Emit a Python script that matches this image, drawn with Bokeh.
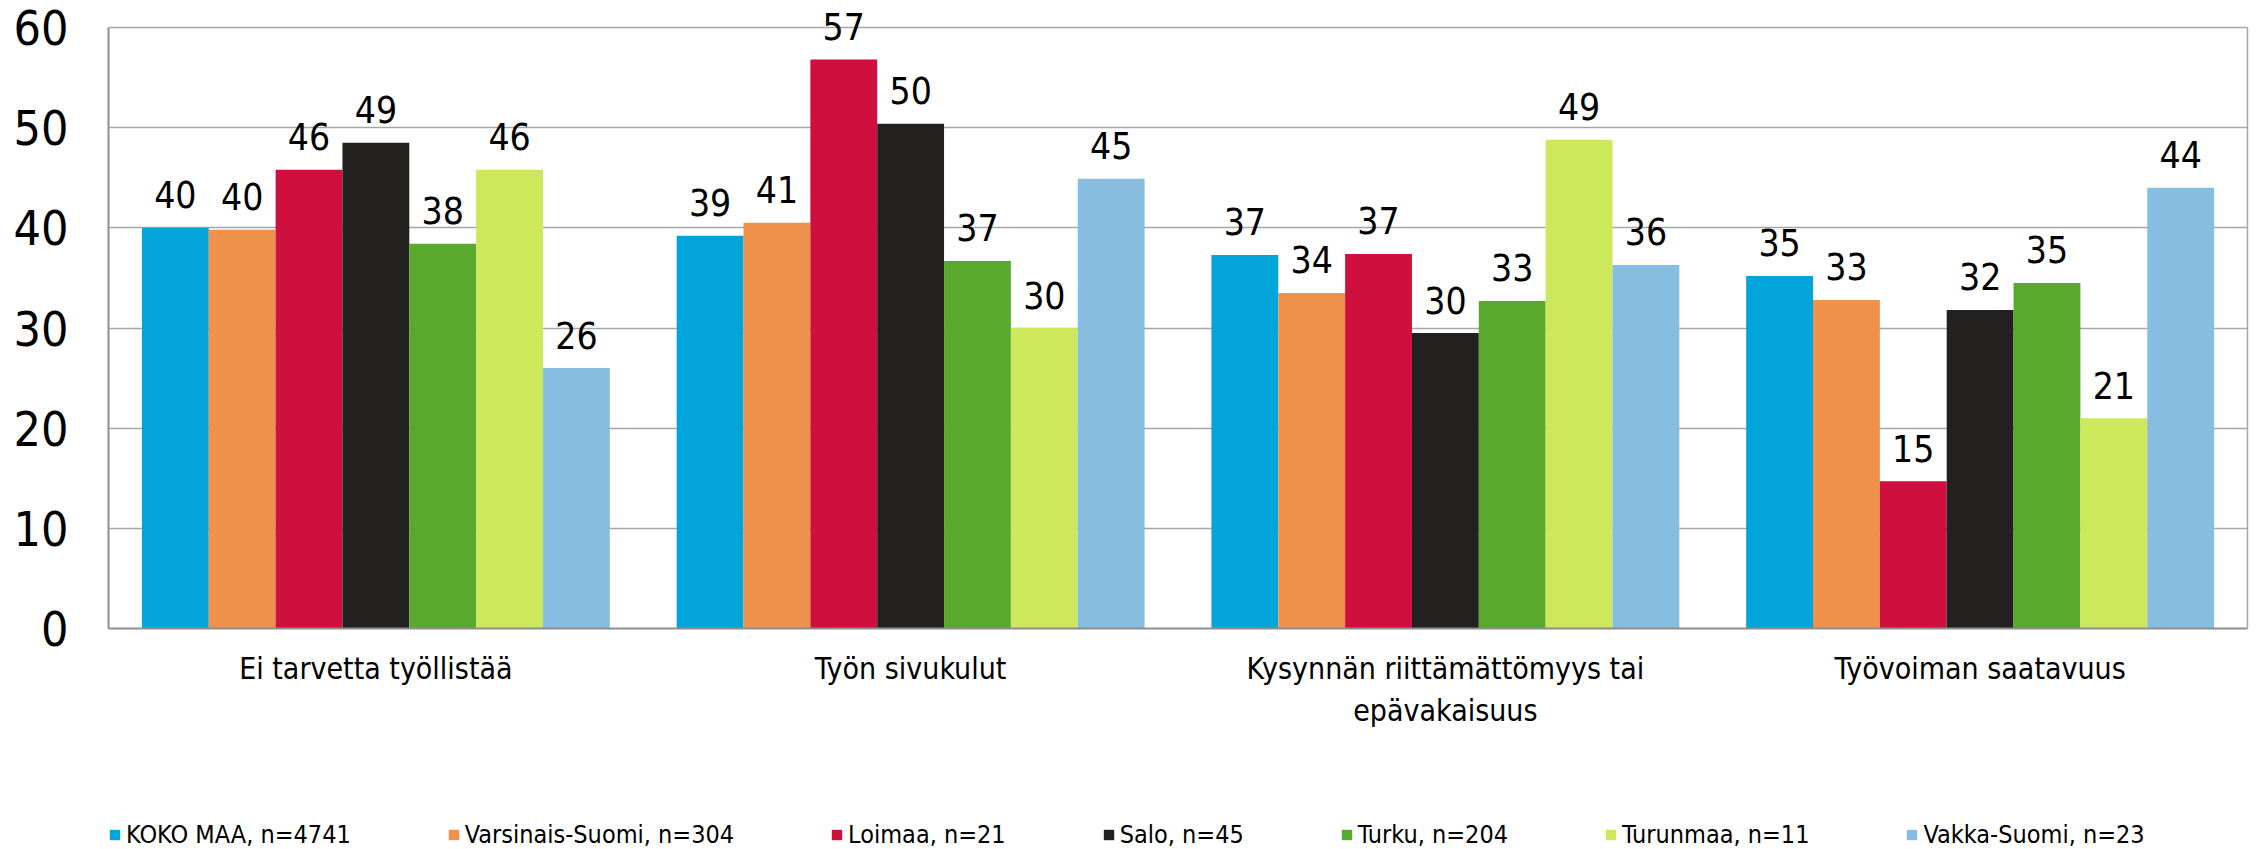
from bokeh.plotting import figure
from bokeh.layouts import column
from bokeh.models import (FactorRange, FixedTicker, Legend, LegendItem, ColumnDataSource,
                          LinearAxis, Range1d)
from bokeh.transform import dodge
from bokeh.core.properties import value
from bokeh.embed import file_html
from bokeh.resources import INLINE

categories = ["Ei tarvetta työllistää", "Työn sivukulut",
              "Kysynnän riittämättömyys tai\nepävakaisuus", "Työvoiman saatavuus"]

series_names = ["KOKO MAA, n=4741", "Varsinais-Suomi, n=304", "Loimaa, n=21",
                "Salo, n=45", "Turku, n=204", "Turunmaa, n=11", "Vakka-Suomi, n=23"]

koko_maa = [40.0, 39.2, 37.3, 35.2]
varsinais_suomi = [39.8, 40.5, 33.5, 32.8]
loimaa = [45.8, 56.8, 37.4, 14.7]
salo = [48.5, 50.4, 29.5, 31.8]
turku = [38.4, 36.7, 32.7, 34.5]
turunmaa = [45.8, 30.0, 48.8, 21.0]
vakka_suomi = [26.0, 44.9, 36.3, 44.0]

series_values = [koko_maa, varsinais_suomi, loimaa, salo, turku, turunmaa, vakka_suomi]
colors = ["#03A4DA", "#F0914B", "#CF0F3D", "#232120", "#58A92D", "#CDE85B", "#88BDE2"]
y_ticks = [0, 10, 20, 30, 40, 50, 60]
y_max = 60

FONT = "DejaVu Sans Condensed"
W = 2257
H_MAIN = 790
H_LEG = 59
FRAME_TOP = 5        # frame starts above the 60 line so that value labels are not clipped
LINE60_Y = 27
BASE_Y = 628
y_end = y_max * (BASE_Y - FRAME_TOP) / (BASE_Y - LINE60_Y)

p = figure(x_range=FactorRange(*categories), y_range=Range1d(0, y_end),
           width=W, height=H_MAIN, output_backend="svg", toolbar_location=None,
           min_border_left=108, min_border_right=10, min_border_top=FRAME_TOP,
           min_border_bottom=H_MAIN - BASE_Y)

p.background_fill_color = "white"
p.border_fill_color = "white"
p.outline_line_color = None

p.xgrid.grid_line_color = None
p.ygrid.ticker = FixedTicker(ticks=y_ticks)
p.ygrid.grid_line_color = "#A6A6A6"
p.ygrid.grid_line_width = 1.5

p.yaxis.ticker = FixedTicker(ticks=y_ticks)
p.yaxis.bounds = (0, y_max)
p.yaxis.major_tick_line_color = None
p.yaxis.minor_tick_line_color = None
p.yaxis.major_tick_out = 0
p.yaxis.major_label_standoff = 40
p.yaxis.major_label_text_font = FONT
p.yaxis.major_label_text_font_size = "48px"
p.yaxis.major_label_text_color = "black"
p.yaxis.axis_line_color = "#8E8E8E"
p.yaxis.axis_line_width = 2

# right frame border of the plot area (0..60)
rax = LinearAxis(ticker=FixedTicker(ticks=[]), bounds=(0, y_max),
                 major_tick_line_color=None, minor_tick_line_color=None,
                 major_tick_out=0, major_label_standoff=0,
                 axis_line_color="#A6A6A6", axis_line_width=1.5)
p.add_layout(rax, "right")

p.xaxis.major_tick_line_color = None
p.xaxis.minor_tick_line_color = None
p.xaxis.major_tick_out = 0
p.xaxis.major_label_standoff = 22
p.xaxis.major_label_text_font = FONT
p.xaxis.major_label_text_font_size = "30px"
p.xaxis.major_label_text_color = "black"
p.xaxis.axis_line_color = "#8E8E8E"
p.xaxis.axis_line_width = 2

# legend strip below the chart
q = figure(width=W, height=H_LEG, output_backend="svg", toolbar_location=None,
           x_axis_location=None, y_axis_location=None, min_border=0,
           x_range=(0, 1), y_range=(0, 1))
q.grid.grid_line_color = None
q.outline_line_color = None
q.background_fill_color = "white"
q.border_fill_color = "white"

n = len(series_names)
items = []
for i, (name, vals, col) in enumerate(zip(series_names, series_values, colors)):
    off = (i - (n - 1) / 2) / (n + 1)
    src = ColumnDataSource(dict(cat=categories, val=vals,
                                lbl=[str(int(v + 0.5)) for v in vals]))
    p.vbar(x=dodge("cat", off, range=p.x_range), top="val", width=1 / (n + 1),
           source=src, fill_color=col, line_color=None)
    p.text(x=dodge("cat", off, range=p.x_range), y="val", text="lbl", source=src,
           text_align="center", text_baseline="alphabetic", y_offset=-33,
           text_font=value(FONT), text_font_size="37px", text_color="black")
    # legend key: a zero-height bar, invisible in the strip, used only for the legend swatch
    key = q.vbar(x=[0.5], top=[0], bottom=[0], width=0.0, fill_color=col, line_color=None)
    items.append(LegendItem(label=name, renderers=[key]))

legend = Legend(items=items, orientation="horizontal", location=(0, 0),
                glyph_width=13, glyph_height=13, label_standoff=5, spacing=96,
                padding=0, margin=0, border_line_color=None, background_fill_alpha=0,
                label_text_font=FONT, label_text_font_size="25px", label_text_color="black")
q.add_layout(legend)

layout = column(p, q, spacing=0)
open("out.html", "w").write(file_html(layout, INLINE))
